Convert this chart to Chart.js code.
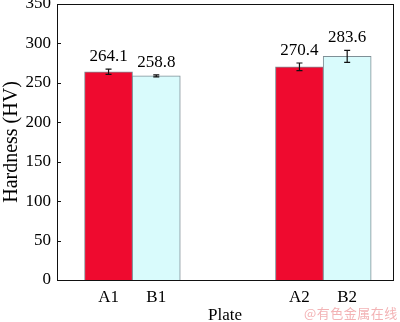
<!DOCTYPE html>
<html>
<head>
<meta charset="utf-8">
<style>
    body { margin: 0; background: #fff; }
    #wrap { position: relative; width: 400px; height: 322px; }
    #mark { position: absolute; left: 304px; top: 303px; font: 13px "Noto Sans CJK SC", sans-serif; color: #f3b3b5; letter-spacing: 0.5px; }
</style>
</head>
<body>
<div id="wrap">
    <canvas id="barChart" width="400" height="322"></canvas>
    <div id="mark">@有色金属在线</div>
</div>

<script src="https://cdn.jsdelivr.net/npm/chart.js"></script>
<script>
    // 板材硬度数据
    const plates = ['A1', 'B1', 'A2', 'B2'];
    const slots = [0, 1, 4, 5];
    const hardness = [264.1, 258.8, 270.4, 283.6];
    const errors = [3.3, 1.2, 4.8, 7.6];
    const yTicks = [0, 50, 100, 150, 200, 250, 300, 350];

    const RED = '#ef0a2f';
    const CYAN = '#d9fbfc';
    const serif = '"Liberation Serif", "Times New Roman", serif';

    // 边框, 内向刻度, 误差棒, 数值标签
    const extras = {
        id: 'extras',
        afterDatasetsDraw(chart) {
            const ctx = chart.ctx;
            const area = chart.chartArea;
            const x = chart.scales.x;
            const y = chart.scales.y;
            ctx.save();
            ctx.strokeStyle = '#111';
            ctx.lineWidth = 1.2;

            // 误差棒
            hardness.forEach((v, i) => {
                const px = x.getPixelForValue(slots[i]);
                const top = y.getPixelForValue(v + errors[i]);
                const bot = y.getPixelForValue(v - errors[i]);
                ctx.beginPath();
                ctx.moveTo(px, top); ctx.lineTo(px, bot);
                ctx.moveTo(px - 3, top); ctx.lineTo(px + 3, top);
                ctx.moveTo(px - 3, bot); ctx.lineTo(px + 3, bot);
                ctx.stroke();

                ctx.fillStyle = '#000';
                ctx.font = '17px ' + serif;
                ctx.textAlign = 'center';
                ctx.textBaseline = 'bottom';
                ctx.fillText(v.toFixed(1), px, top - 4);
            });

            // 坐标框
            ctx.lineWidth = 1;
            ctx.strokeRect(Math.round(area.left) + 0.5, Math.round(area.top) + 0.5,
                Math.round(area.right - area.left), Math.round(area.bottom - area.top));

            // 左轴内向刻度
            yTicks.forEach(t => {
                const py = Math.round(y.getPixelForValue(t)) + 0.5;
                ctx.beginPath();
                ctx.moveTo(area.left, py);
                ctx.lineTo(area.left + 4, py);
                ctx.stroke();
            });
            ctx.restore();
        }
    };

    const ctx = document.getElementById('barChart').getContext('2d');
    new Chart(ctx, {
        type: 'bar',
        data: {
            datasets: [{
                data: hardness.map((v, i) => ({ x: slots[i], y: v })),
                backgroundColor: plates.map(p => p[0] === 'A' ? RED : CYAN),
                borderColor: '#7f8f96',
                borderWidth: 1,
                barThickness: 48
            }]
        },
        options: {
            responsive: false,
            animation: false,
            layout: { padding: { top: 4, right: 7, left: 0, bottom: 0 } },
            plugins: {
                legend: { display: false },
                tooltip: { enabled: false }
            },
            scales: {
                x: {
                    type: 'linear',
                    offset: false,
                    min: -1.08,
                    max: 5.96,
                    grid: { display: false, drawTicks: false },
                    border: { display: false },
                    afterBuildTicks: axis => { axis.ticks = slots.map(s => ({ value: s })); },
                    afterFit: axis => { axis.height = 42; axis.paddingLeft = 0; axis.paddingRight = 0; },
                    ticks: {
                        padding: 7,
                        color: '#000',
                        font: { family: serif, size: 17 },
                        callback: v => plates[slots.indexOf(v)]
                    },
                    title: {
                        display: true,
                        text: 'Plate',
                        color: '#000',
                        font: { family: serif, size: 17 },
                        padding: { top: 6, bottom: -4 }
                    }
                },
                y: {
                    min: 0,
                    max: 350,
                    grid: { display: false, drawTicks: false },
                    border: { display: false },
                    afterBuildTicks: axis => { axis.ticks = yTicks.map(t => ({ value: t })); },
                    afterFit: axis => { axis.width = 57; axis.paddingTop = 0; axis.paddingBottom = 0; },
                    ticks: {
                        padding: 6,
                        color: '#000',
                        font: { family: serif, size: 17 }
                    },
                    title: {
                        display: true,
                        text: 'Hardness (HV)',
                        color: '#000',
                        font: { family: serif, size: 20 },
                        padding: { top: 0, bottom: 0 }
                    }
                }
            }
        },
        plugins: [extras]
    });
</script>
</body>
</html>
